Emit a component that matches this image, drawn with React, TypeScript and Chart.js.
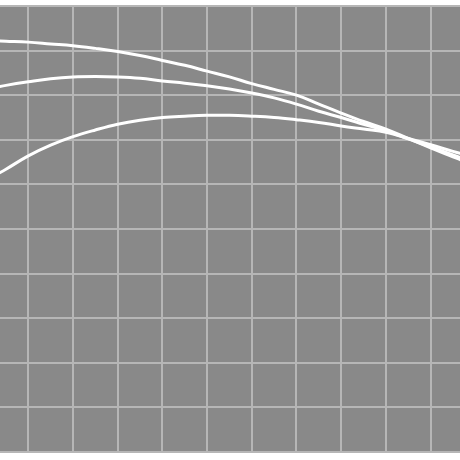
import React, { useEffect, useRef } from "react";
import { Chart, registerables } from "chart.js";

Chart.register(...registerables);

const xValues = [-0.75, -0.5, 0, 0.5, 1, 1.5, 2, 2.5, 3, 3.5, 4, 4.5, 5, 5.5, 6, 6.5, 7, 7.5, 8, 8.5, 9, 9.5, 9.75];
const seriesA = [9.22, 9.21, 9.19, 9.15, 9.11, 9.05, 8.98, 8.89, 8.78, 8.67, 8.54, 8.41, 8.26, 8.13, 8.0, 7.8, 7.6, 7.41, 7.24, 7.03, 6.82, 6.62, 6.52];
const seriesB = [8.17, 8.22, 8.3, 8.37, 8.41, 8.42, 8.41, 8.38, 8.32, 8.27, 8.21, 8.14, 8.05, 7.94, 7.8, 7.64, 7.5, 7.35, 7.2, 7.02, 6.84, 6.66, 6.57];
const seriesC = [6.2, 6.34, 6.64, 6.88, 7.07, 7.22, 7.35, 7.44, 7.5, 7.53, 7.55, 7.55, 7.53, 7.5, 7.45, 7.39, 7.31, 7.24, 7.17, 7.03, 6.89, 6.74, 6.67];
const xTicks = [0, 1, 2, 3, 4, 5, 6, 7, 8, 9];
const yTicks = [0, 1, 2, 3, 4, 5, 6, 7, 8, 9, 10];
const xMin = -0.633;
const xMax = 9.658;

const bgPlugin = {
  id: "bg",
  beforeDraw(chart: any) {
    const ctx = chart.ctx;
    ctx.save();
    ctx.fillStyle = "#898989";
    ctx.fillRect(0, 0, chart.width, chart.height);
    ctx.restore();
  },
};

export default function App() {
  const ref = useRef<HTMLCanvasElement | null>(null);
  useEffect(() => {
    if (!ref.current) return;
    const mk = (vals: number[]) => ({
      data: xValues.map((x, i) => ({ x, y: vals[i] })),
      borderColor: "#ffffff",
      borderWidth: 3,
      pointRadius: 0,
      tension: 0.4,
      fill: false,
    });
    const chart = new Chart(ref.current, {
      type: "line",
      data: { datasets: [mk(seriesA), mk(seriesB), mk(seriesC)] },
      options: {
        animation: false,
        responsive: false,
        devicePixelRatio: 1,
        layout: { padding: { top: 1, bottom: 1, left: 0, right: 0 } },
        plugins: { legend: { display: false }, tooltip: { enabled: false } },
        scales: {
          x: {
            type: "linear",
            min: xMin,
            max: xMax,
            afterBuildTicks: (s: any) => {
              s.ticks = xTicks.map((v) => ({ value: v }));
            },
            afterFit: (s: any) => {
              s.height = 0;
            },
            ticks: { display: false },
            border: { display: false },
            grid: { color: "#b6b6b6", lineWidth: 2, drawTicks: false },
          },
          y: {
            type: "linear",
            min: 0,
            max: 10,
            afterBuildTicks: (s: any) => {
              s.ticks = yTicks.map((v) => ({ value: v }));
            },
            afterFit: (s: any) => {
              s.width = 0;
            },
            ticks: { display: false },
            border: { display: false },
            grid: { color: "#b6b6b6", lineWidth: 2, drawTicks: false },
          },
        },
      },
      plugins: [bgPlugin],
    });
    return () => chart.destroy();
  }, []);
  return (
    <div style={{ position: "absolute", left: 0, top: 5, width: 460, height: 448 }}>
      <canvas ref={ref} width={460} height={448} style={{ width: 460, height: 448, display: "block" }} />
    </div>
  );
}
